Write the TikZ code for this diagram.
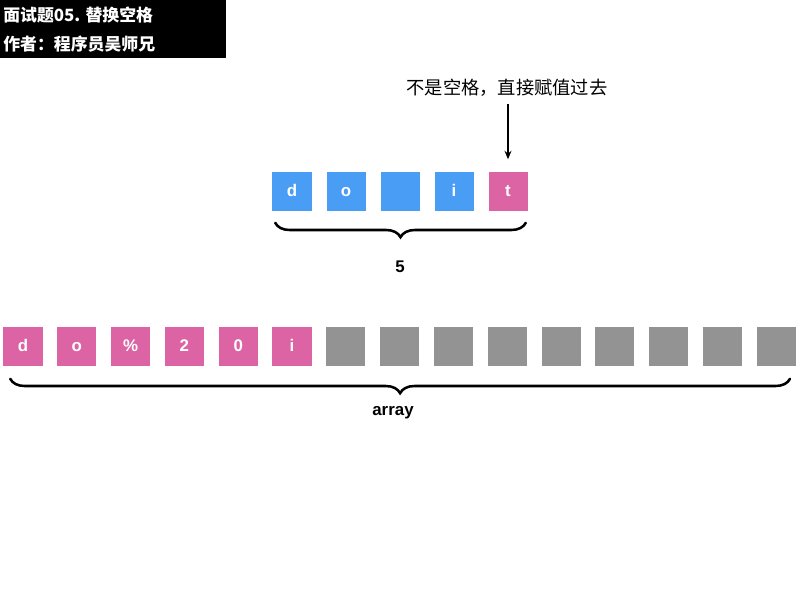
\documentclass[tikz,border=0pt]{standalone}
\usepackage{fontspec}
\setmainfont{Liberation Sans}
\newfontfamily\cjk{Noto Sans CJK SC}
\usetikzlibrary{decorations.pathreplacing,arrows.meta,calc}
\definecolor{cblue}{HTML}{4A9DF4}
\definecolor{cpink}{HTML}{DC63A4}
\definecolor{cgray}{HTML}{939393}
\begin{document}
\begin{tikzpicture}[x=0.025cm,y=-0.025cm,
  cell/.style={minimum size=0.975cm,inner sep=0pt,text=white,text height=0.72em,text depth=0pt,font=\fontsize{12}{14}\selectfont\bfseries},
  bluecell/.style={cell,fill=cblue},
  pinkcell/.style={cell,fill=cpink},
  graycell/.style={cell,fill=cgray},
  brc/.style={decorate,decoration={brace,mirror,amplitude=0.36cm},line width=1.8pt,line cap=round},
  lbl/.style={font=\fontsize{12}{14}\selectfont\bfseries,inner sep=0pt},
  titletxt/.style={anchor=west,text=white,inner sep=0pt,font=\cjk\fontsize{12}{14}\selectfont\bfseries}
]
\useasboundingbox (0,0) rectangle (800,600);
% title
\node[fill=black,minimum width=5.65cm,minimum height=1.45cm,inner sep=0pt,anchor=north west] (titlebox) at (0,0) {};
\node[titletxt] (t1) at (3,15) {面试题05. 替换空格};
\node[titletxt] (t2) at (3,44) {作者：程序员吴师兄};
% top row
\node[bluecell] (a1) at (292,191) {d};
\node[bluecell] (a2) at (346,191) {o};
\node[bluecell] (a3) at (400,191) {};
\node[bluecell] (a4) at (454,191) {i};
\node[pinkcell] (a5) at (508,191) {t};
% note + arrow
\node[inner sep=0pt,font=\cjk\fontsize{13}{15}\selectfont] (note) at (507,88) {不是空格，直接赋值过去};
\draw[line width=0.8pt,-{Stealth[length=6pt,width=5pt]},shorten <=0.18cm,shorten >=0.3cm] (note.south -| a5.north) -- (a5.north);
% top brace
\draw[brc] ($(a1.south west)+(3,12)$) -- ($(a5.south east)+(-2,12)$);
\node[lbl] (five) at (400,267) {5};
% bottom row
\foreach \i/\c in {1/d,2/o,3/\%,4/2,5/0,6/i}{
  \node[pinkcell] (b\i) at ({23+53.8*(\i-1)},346) {\c};
}
\foreach \i in {7,...,15}{
  \node[graycell] (b\i) at ({23+53.8*(\i-1)},346) {};
}
\draw[brc] ($(b1.south west)+(7,13)$) -- ($(b15.south east)+(-6,13)$);
\node[lbl] (arr) at (393,413) {array};
\end{tikzpicture}
\end{document}
